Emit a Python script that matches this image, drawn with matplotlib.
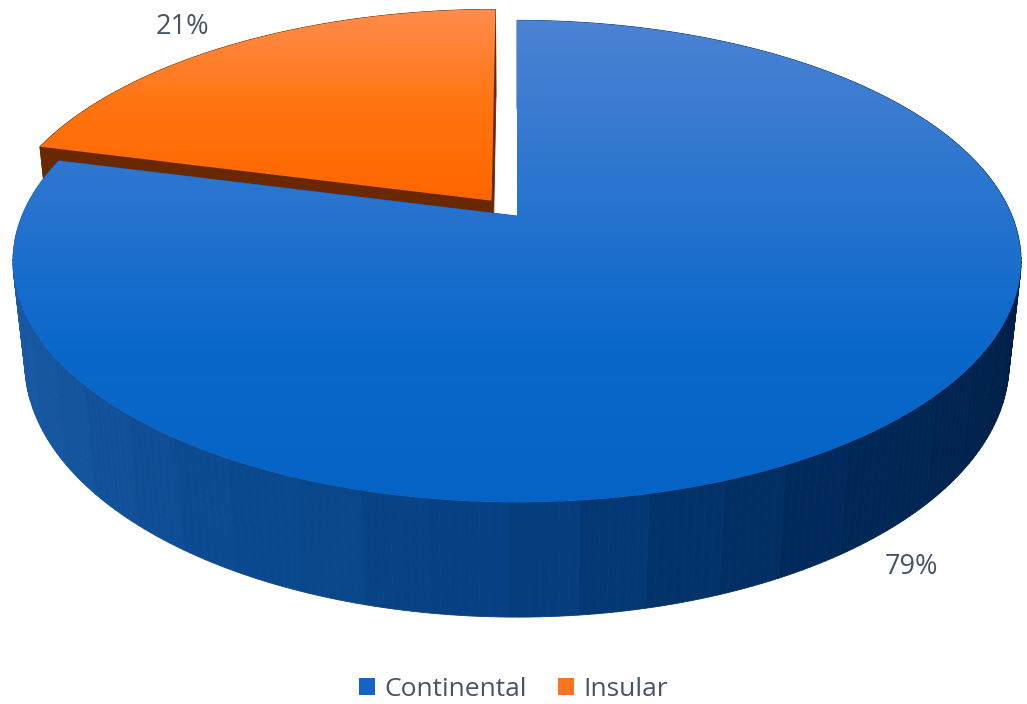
import matplotlib.pyplot as plt
import numpy as np
from matplotlib.patches import Polygon, Patch
from matplotlib.colors import LinearSegmentedColormap

# data
labels = ['Continental', 'Insular']
shares = [79, 21]
pct_text = ['79%', '21%']
explode = [0.0, 0.085]

# colours
top_cols = [['#4d83d3', '#0a68cb', '#005ec0'], ['#ff8d4c', '#ff7410', '#ff6600']]
side_cols = [['#1a5aa6', '#0b4a90', '#063f80', '#002a5c', '#001f46'], ['#6a2800', '#6a2800']]
legend_cols = ['#1464c8', '#ff7320']
txt_col = '#44546a'

W, H = 1027, 704
cx, cy = 517, 488          # screen position of the pie centre (y up)
f, D = 2327, 4.7
tilt = np.radians(28)
depth = 0.235


def project(X, Y, Z):
    yc = Y * np.sin(tilt) + Z * np.cos(tilt)
    zc = D + Y * np.cos(tilt) - Z * np.sin(tilt)
    return cx + f * X / zc, cy + f * yc / zc


fig = plt.figure(figsize=(W / 100, H / 100), dpi=100)
ax = fig.add_axes([0, 0, 1, 1])
ax.set_xlim(0, W)
ax.set_ylim(0, H)
ax.axis('off')

# slice angles: start at 12 o'clock, go clockwise
start = 90.0
slices = []
for s in shares:
    t1 = start - s * 3.6
    slices.append((t1, start))
    start = t1

# draw the back (exploded) slice first, front slice last
order = [1, 0]
for k in order:
    t1, t2 = slices[k]
    mid = np.radians((t1 + t2) / 2)
    ox, oy = explode[k] * np.cos(mid), explode[k] * np.sin(mid)
    ts = np.radians(np.linspace(t1, t2, 300))
    X = np.cos(ts) + ox
    Y = np.sin(ts) + oy

    side_cmap = LinearSegmentedColormap.from_list('s%d' % k, side_cols[k])

    faces = []
    # outer arc side, in facets
    for i in range(len(ts) - 1):
        a, b = ts[i], ts[i + 1]
        xa, ya = project(X[i], Y[i], 0)
        xb, yb = project(X[i + 1], Y[i + 1], 0)
        xc, yc = project(X[i + 1], Y[i + 1], -depth)
        xd, yd = project(X[i], Y[i], -depth)
        m = (a + b) / 2
        band = np.floor(np.degrees(m) / 7) * 7 + 3.5
        c = (np.cos(np.radians(band)) + 1) / 2
        faces.append((np.sin(m), [(xa, ya), (xb, yb), (xc, yc), (xd, yd)], side_cmap(c)))
    # radial faces
    for t in (t1, t2):
        tr = np.radians(t)
        ex, ey = np.cos(tr) + ox, np.sin(tr) + oy
        pts = [project(ox, oy, 0), project(ex, ey, 0), project(ex, ey, -depth), project(ox, oy, -depth)]
        faces.append((np.sin(tr) / 2, pts, side_cols[k][0]))
    faces.sort(key=lambda q: -q[0])
    for _, pts, col in faces:
        ax.add_patch(Polygon(pts, closed=True, facecolor=col, edgecolor=col, lw=0.6))

    # top face with vertical gradient
    top = [project(ox, oy, 0)] + [project(X[i], Y[i], 0) for i in range(len(ts))]
    poly = Polygon(top, closed=True, facecolor='none', edgecolor='none')
    ax.add_patch(poly)
    ys = [p[1] for p in top]
    top_cmap = LinearSegmentedColormap.from_list('t%d' % k, top_cols[k][::-1])
    grad = np.linspace(0, 1, 256).reshape(-1, 1)
    im = ax.imshow(grad, cmap=top_cmap, origin='lower', aspect='auto',
                   extent=(0, W, 22 if k == 0 else min(ys), max(ys) if k == 1 else 690),
                   interpolation='bilinear', zorder=2)
    im.set_clip_path(poly)
    im.set_zorder(1)
    poly.set_zorder(1)

# percentage labels
ax.text(911, H - 567, pct_text[0], fontsize=19.5, color=txt_col, ha='center', va='center', family='Open Sans')
ax.text(182, H - 27, pct_text[1], fontsize=19.5, color=txt_col, ha='center', va='center', family='Open Sans')

handles = [Patch(facecolor=c, edgecolor='none', label=l) for c, l in zip(legend_cols, labels)]
ax.legend(handles=handles, loc='center', bbox_to_anchor=(0.5, 15 / H), ncol=2, frameon=False,
          handlelength=0.6, handleheight=0.6, handletextpad=0.35, columnspacing=1.2,
          prop={'family': 'Open Sans', 'size': 19}, labelcolor=txt_col)

fig.savefig('out.png', dpi=100)
